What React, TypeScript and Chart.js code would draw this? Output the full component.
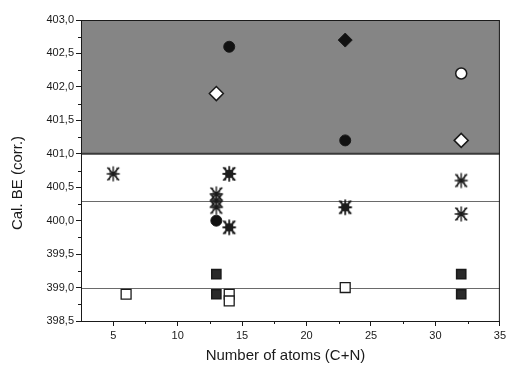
import React, { useEffect, useRef } from 'react';
import { Chart, registerables } from 'chart.js';

Chart.register(...registerables);

const xTicks = [5, 10, 15, 20, 25, 30, 35];
const yTicks = [398.5, 399.0, 399.5, 400.0, 400.5, 401.0, 401.5, 402.0, 402.5, 403.0];

const filledCircleX = [14, 23, 13];
const filledCircleY = [402.6, 401.2, 400.0];
const openCircleX = [32];
const openCircleY = [402.2];
const filledDiamondX = [23];
const filledDiamondY = [402.7];
const openDiamondX = [13, 32];
const openDiamondY = [401.9, 401.2];
const openStarX = [5, 13, 13, 13, 32, 32];
const openStarY = [400.7, 400.4, 400.3, 400.2, 400.6, 400.1];
const filledStarX = [14, 14, 23];
const filledStarY = [400.7, 399.9, 400.2];
const filledSquareX = [13, 13, 32, 32];
const filledSquareY = [399.2, 398.9, 399.2, 398.9];
const openSquareX = [6, 14, 14, 23];
const openSquareY = [398.9, 398.9, 398.8, 399.0];
const refLines = [400.3, 399.0];
const shadedBand = [401.0, 403.0];

const xTitle = 'Number of atoms (C+N)';
const yTitle = 'Cal. BE (corr.)';

const FONT = '"Liberation Sans", Arial, sans-serif';
const INK = '#1a1a1a';

const pts = (xs: number[], ys: number[]) => xs.map((x, i) => ({ x, y: ys[i] }));

function makeStar(filled: boolean): HTMLCanvasElement {
  const c = document.createElement('canvas');
  c.width = 16;
  c.height = 18;
  const g = c.getContext('2d')!;
  const cx = 8, cy = 9;
  g.strokeStyle = INK;
  g.lineWidth = filled ? 1.8 : 1.4;
  g.lineCap = 'round';
  // vertical spine
  g.beginPath();
  g.moveTo(cx, cy - 7);
  g.lineTo(cx, cy + 7);
  // horizontal arms
  g.moveTo(cx - 6, cy);
  g.lineTo(cx + 6, cy);
  // diagonals
  g.moveTo(cx - 5.5, cy - 6);
  g.lineTo(cx + 5.5, cy + 6);
  g.moveTo(cx + 5.5, cy - 6);
  g.lineTo(cx - 5.5, cy + 6);
  g.stroke();
  // bracket-like sides
  g.lineWidth = filled ? 1.6 : 1.1;
  g.beginPath();
  g.moveTo(cx - 4, cy - 6);
  g.quadraticCurveTo(cx - 1.5, cy, cx - 4, cy + 6);
  g.moveTo(cx + 4, cy - 6);
  g.quadraticCurveTo(cx + 1.5, cy, cx + 4, cy + 6);
  g.stroke();
  if (filled) {
    g.fillStyle = '#1c1c1c';
    g.beginPath();
    g.arc(cx, cy, 4.3, 0, Math.PI * 2);
    g.fill();
  }
  return c;
}

const decor = {
  id: 'decor',
  beforeDatasetsDraw(chart: any) {
    const { ctx, chartArea: a, scales } = chart;
    const x = scales.x, y = scales.y;
    ctx.save();
    // shaded band
    const yTop = y.getPixelForValue(shadedBand[1]);
    const yBot = y.getPixelForValue(shadedBand[0]);
    ctx.fillStyle = '#858585';
    ctx.fillRect(a.left, yTop, a.right - a.left, yBot - yTop);
    ctx.strokeStyle = '#3a3a3a';
    ctx.lineWidth = 2;
    ctx.beginPath();
    ctx.moveTo(a.left, yBot);
    ctx.lineTo(a.right, yBot);
    ctx.stroke();
    // reference lines
    ctx.strokeStyle = '#6a6a6a';
    ctx.lineWidth = 1;
    refLines.forEach((v) => {
      const py = Math.round(y.getPixelForValue(v)) + 0.5;
      ctx.beginPath();
      ctx.moveTo(a.left, py);
      ctx.lineTo(a.right, py);
      ctx.stroke();
    });
    // frame
    ctx.strokeStyle = INK;
    ctx.lineWidth = 1;
    ctx.strokeRect(a.left + 0.5, a.top + 0.5, a.right - a.left - 1, a.bottom - a.top);
    // minor ticks
    ctx.beginPath();
    for (let i = 0; i < xTicks.length; i++) {
      const v = xTicks[i] - 2.5;
      if (v > x.min) {
        const px = Math.round(x.getPixelForValue(v)) + 0.5;
        ctx.moveTo(px, a.bottom);
        ctx.lineTo(px, a.bottom + 3);
      }
    }
    for (let i = 0; i < yTicks.length - 1; i++) {
      const v = yTicks[i] + 0.25;
      const py = Math.round(y.getPixelForValue(v)) + 0.5;
      ctx.moveTo(a.left, py);
      ctx.lineTo(a.left - 3, py);
    }
    ctx.stroke();
    ctx.restore();
  },
  afterDraw(chart: any) {
    const { ctx, chartArea: a } = chart;
    ctx.save();
    ctx.fillStyle = INK;
    ctx.font = `15px ${FONT}`;
    ctx.textAlign = 'center';
    ctx.textBaseline = 'middle';
    ctx.fillText(xTitle, (a.left + a.right) / 2 - 5, 356);
    ctx.translate(18, 183);
    ctx.rotate(-Math.PI / 2);
    ctx.fillText(yTitle, 0, 0);
    ctx.restore();
  },
};

export default function App() {
  const ref = useRef<HTMLCanvasElement | null>(null);
  useEffect(() => {
    document.body.style.margin = '0';
    const openStar = makeStar(false);
    const filledStar = makeStar(true);
    const base = { showLine: false, borderColor: INK };
    const chart = new Chart(ref.current!, {
      type: 'scatter',
      data: {
        datasets: [
          { ...base, data: pts(filledCircleX, filledCircleY), pointStyle: 'circle', pointRadius: 5.5, backgroundColor: '#111', borderWidth: 1 },
          { ...base, data: pts(openCircleX, openCircleY), pointStyle: 'circle', pointRadius: 5.5, backgroundColor: '#fff', borderWidth: 1.5 },
          { ...base, data: pts(filledDiamondX, filledDiamondY), pointStyle: 'rectRot', pointRadius: 7, backgroundColor: '#111', borderWidth: 1 },
          { ...base, data: pts(openDiamondX, openDiamondY), pointStyle: 'rectRot', pointRadius: 7, backgroundColor: '#fff', borderWidth: 1.5 },
          { ...base, data: pts(openStarX, openStarY), pointStyle: openStar, pointRadius: 7, backgroundColor: 'transparent', borderWidth: 1 },
          { ...base, data: pts(filledStarX, filledStarY), pointStyle: filledStar, pointRadius: 7, backgroundColor: '#111', borderWidth: 1 },
          { ...base, data: pts(filledSquareX, filledSquareY), pointStyle: 'rect', pointRadius: 6.5, backgroundColor: '#2a2a2a', borderWidth: 1.5 },
          { ...base, data: pts(openSquareX, openSquareY), pointStyle: 'rect', pointRadius: 7, backgroundColor: '#fff', borderWidth: 1.3 },
        ],
      },
      options: {
        animation: false,
        responsive: false,
        maintainAspectRatio: false,
        layout: { padding: { top: 20, right: 8, left: 0, bottom: 0 } },
        plugins: { legend: { display: false }, tooltip: { enabled: false } },
        scales: {
          x: {
            type: 'linear',
            min: 2.5,
            max: 35,
            afterBuildTicks: (s: any) => { s.ticks = xTicks.map((v) => ({ value: v })); },
            afterFit: (s: any) => { s.height = 49; },
            grid: { drawOnChartArea: false, tickLength: 5, color: INK },
            border: { color: INK, width: 1 },
            ticks: { font: { family: FONT, size: 11 }, color: INK, padding: 3, maxRotation: 0, autoSkip: false },
          },
          y: {
            type: 'linear',
            min: 398.5,
            max: 403,
            afterBuildTicks: (s: any) => { s.ticks = yTicks.map((v) => ({ value: v })); },
            afterFit: (s: any) => { s.width = 81; },
            grid: { drawOnChartArea: false, tickLength: 5, color: INK },
            border: { color: INK, width: 1 },
            ticks: {
              font: { family: FONT, size: 11 },
              color: INK,
              padding: 2,
              autoSkip: false,
              callback: (v: any) => Number(v).toFixed(1).replace('.', ','),
            },
          },
        },
      },
      plugins: [decor],
    } as any);
    return () => chart.destroy();
  }, []);
  return <canvas ref={ref} width={509} height={370} style={{ display: 'block', width: 509, height: 370 }} />;
}
